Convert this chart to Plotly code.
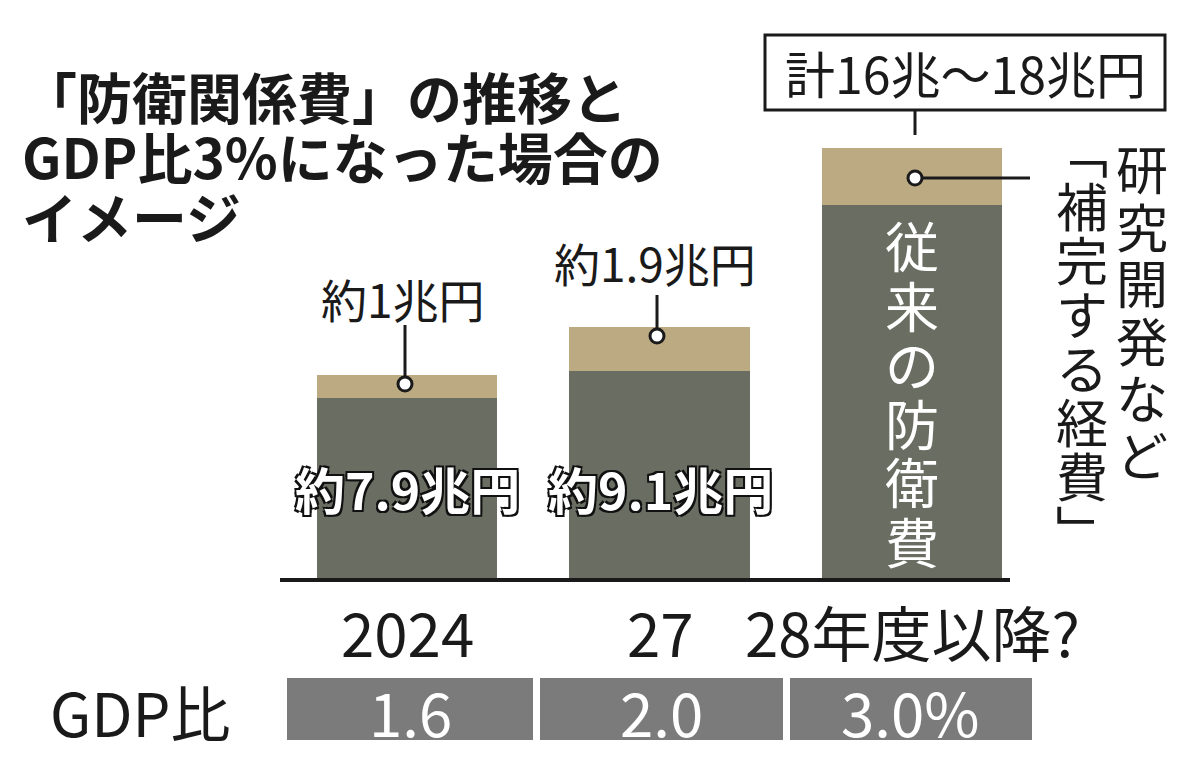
import plotly.graph_objects as go

categories = ["2024", "27", "28年度以降?"]
base_cost = [7.9, 9.1, 16.3]
extra_cost = [1.0, 1.9, 2.5]
base_labels = ["約7.9兆円", "約9.1兆円", ""]
extra_labels = ["約1兆円", "約1.9兆円"]
gdp_ratio = ["1.6", "2.0", "3.0%"]

W, H = 1200, 772
OX, OY = 8, 8  # page body margin
FONT = "Noto Sans CJK JP"
DARK = "#6a6d62"
BEIGE = "#bcaa82"
INK = "#1a1a1a"

def px(x):
    return (x - OX) / W

def py(y):
    return 1 - (y - OY) / H

xs = [0, 1, 2]
unit = 252.5
fig = go.Figure()
fig.add_trace(go.Bar(x=xs, y=base_cost, width=0.713, marker_color=DARK, marker_line_width=0))
fig.add_trace(go.Bar(x=xs, y=extra_cost, width=0.713, marker_color=BEIGE, marker_line_width=0))

shapes = []
ann = []

shapes.append(dict(type="line", xref="paper", yref="paper", x0=px(280), x1=px(1010),
                   y0=py(580), y1=py(580), line=dict(color=INK, width=4)))

for i, t in enumerate(["「防衛関係費」の推移と", "GDP比3%になった場合の", "イメージ"]):
    ann.append(dict(text="<b>" + t + "</b>", x=px(20), y=py(95 + 60 * i), xanchor="left",
                    font=dict(size=55, color=INK)))

centers = [407, 660, 912]
shadow = "-2px -2px 0 #111, 2px 2px 0 #111, 2px -2px 0 #111, -2px 2px 0 #111"
for i in range(2):
    ann.append(dict(text="<b>" + base_labels[i] + "</b>", x=px(centers[i]), y=py(488),
                    font=dict(size=50, color="white", shadow=shadow)))

for c, ty, l0, l1, dy, lab in [(405, 298, 325, 378, 384, extra_labels[0]),
                                (657, 262, 295, 330, 336, extra_labels[1])]:
    ann.append(dict(text=lab, x=px(c - 2), y=py(ty), font=dict(size=46, color=INK)))
    shapes.append(dict(type="line", xref="paper", yref="paper", x0=px(c), x1=px(c),
                       y0=py(l0), y1=py(l1), line=dict(color=INK, width=3)))
    shapes.append(dict(type="circle", xref="paper", yref="paper", x0=px(c - 7), x1=px(c + 7),
                       y0=py(dy - 7), y1=py(dy + 7), fillcolor="white", line=dict(color=INK, width=3)))

shapes.append(dict(type="rect", xref="paper", yref="paper", x0=px(765), x1=px(1165),
                   y0=py(110), y1=py(35), fillcolor="white", line=dict(color=INK, width=3)))
shapes.append(dict(type="line", xref="paper", yref="paper", x0=px(915), x1=px(915),
                   y0=py(110), y1=py(135), line=dict(color=INK, width=3)))
ann.append(dict(text="計16兆～18兆円", x=px(965), y=py(72), font=dict(size=50, color=INK)))
shapes.append(dict(type="line", xref="paper", yref="paper", x0=px(915), x1=px(1030),
                   y0=py(178), y1=py(178), line=dict(color=INK, width=3)))
shapes.append(dict(type="circle", xref="paper", yref="paper", x0=px(908), x1=px(922),
                   y0=py(171), y1=py(185), fillcolor="white", line=dict(color=INK, width=3)))

def vert(s, x, y0, pitch, size, color):
    for k, ch in enumerate(s):
        ann.append(dict(text=ch, x=px(x), y=py(y0 + pitch * k), font=dict(size=size, color=color)))

vert("従来の防衛費", 912, 245, 59, 54, "white")
vert("研究開発など", 1142, 168, 57, 52, INK)
vert("﹁補完する経費﹂", 1082, 150, 54, 52, INK)

for c, t in zip(centers, categories):
    ann.append(dict(text=t, x=px(c), y=py(630), font=dict(size=60, color=INK)))

ann.append(dict(text="GDP比", x=px(140), y=py(710), font=dict(size=60, color=INK)))
for (x0, x1), t in zip([(287, 533), (540, 783), (790, 1032)], gdp_ratio):
    shapes.append(dict(type="rect", xref="paper", yref="paper", x0=px(x0), x1=px(x1),
                       y0=py(740), y1=py(678), fillcolor="#7b7b7b", line_width=0))
    ann.append(dict(text=t, x=px((x0 + x1) / 2), y=py(710), font=dict(size=60, color="white")))

for a in ann:
    a.update(xref="paper", yref="paper", showarrow=False)
    a.setdefault("xanchor", "center")
    a.setdefault("yanchor", "middle")

fig.update_layout(
    width=W, height=H, barmode="stack", showlegend=False, bargap=0,
    margin=dict(l=0, r=0, t=0, b=0),
    paper_bgcolor="white", plot_bgcolor="white",
    font=dict(family=FONT, color=INK),
    xaxis=dict(range=[-(407 - OX) / unit, (W - 407 + OX) / unit], visible=False, fixedrange=True),
    yaxis=dict(range=[-(H - 580 + OY) / 23, (580 - OY) / 23], visible=False, fixedrange=True),
    shapes=shapes, annotations=ann,
)
fig.write_html("out.html")
